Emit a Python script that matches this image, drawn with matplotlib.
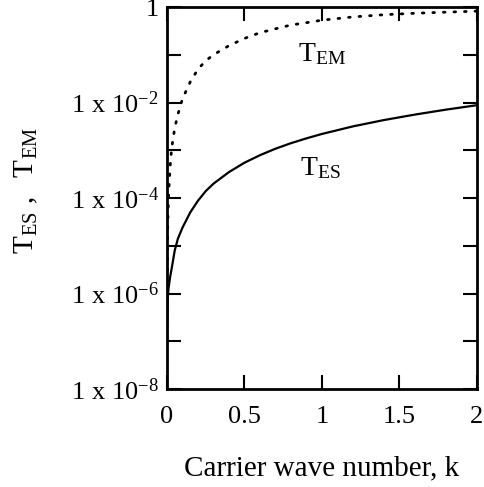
import matplotlib
matplotlib.use("Agg")
import matplotlib.pyplot as plt
from matplotlib.ticker import FixedLocator, NullLocator

plt.rcParams["font.family"] = ["Liberation Serif", "DejaVu Serif"]
plt.rcParams["mathtext.fontset"] = "custom"
plt.rcParams["mathtext.rm"] = "Liberation Serif"
plt.rcParams["mathtext.it"] = "Liberation Serif"

# carrier wave number
k_es = [0.0, 0.005, 0.01, 0.02, 0.03, 0.05, 0.07, 0.1, 0.15, 0.2, 0.25, 0.3,
        0.4, 0.5, 0.6, 0.7, 0.8, 0.9, 1.0, 1.2, 1.4, 1.6, 1.8, 2.0]
t_es = [1e-7, 8e-7, 1.3e-6, 2.2e-6, 3.3e-6, 8e-6, 1.4e-5, 2.4e-5, 5e-5, 8.8e-5,
        1.4e-4, 2.0e-4, 3.5e-4, 5.5e-4, 7.9e-4, 1.08e-3, 1.41e-3, 1.78e-3,
        2.2e-3, 3.17e-3, 4.3e-3, 5.6e-3, 7.1e-3, 8.8e-3]

k_em = [0.001, 0.002, 0.005, 0.01, 0.02, 0.03, 0.05, 0.07, 0.1, 0.15, 0.2,
        0.25, 0.3, 0.4, 0.5, 0.6, 0.7, 0.8, 0.9, 1.0, 1.2, 1.4, 1.6, 1.8, 2.0]
t_em = [1.1e-6, 4.4e-6, 2.8e-5, 1.1e-4, 4.4e-4, 1.1e-3, 2.9e-3, 5.6e-3, 0.012,
        0.027, 0.05, 0.075, 0.1, 0.155, 0.22, 0.29, 0.35, 0.42, 0.47, 0.53,
        0.62, 0.69, 0.74, 0.78, 0.82]

x_ticks = [0, 0.5, 1, 1.5, 2]
x_labels = ["0", "0.5", "1", "1.5", "2"]
y_ticks = [1e-8, 1e-7, 1e-6, 1e-5, 1e-4, 1e-3, 1e-2, 1e-1, 1]
y_labels = [r"$\mathrm{1\ x\ 10^{-8}}$", "", r"$\mathrm{1\ x\ 10^{-6}}$", "",
            r"$\mathrm{1\ x\ 10^{-4}}$", "", r"$\mathrm{1\ x\ 10^{-2}}$", "", "1"]

fig = plt.figure(figsize=(4.84, 4.87), dpi=100)
ax = fig.add_axes([0.345, 0.201, 0.6405, 0.7846])

ax.plot(k_es, t_es, color="black", lw=1.6, solid_capstyle="round")
ax.plot(k_em, t_em, color="black", lw=2.0, linestyle=(0, (0.6, 3.2)),
        dash_capstyle="round")

ax.set_yscale("log")
ax.set_xlim(0, 2)
ax.set_ylim(1e-8, 1)

ax.xaxis.set_major_locator(FixedLocator(x_ticks))
ax.set_xticklabels(x_labels, fontsize=19)
ax.yaxis.set_major_locator(FixedLocator(y_ticks))
ax.yaxis.set_minor_locator(NullLocator())
ax.set_yticklabels(y_labels, fontsize=19)

ax.tick_params(which="major", direction="in", length=10, width=1.5,
               top=True, right=True)
ax.tick_params(axis="x", pad=12)
ax.tick_params(axis="y", pad=6)
for s in ax.spines.values():
    s.set_linewidth(2)

ax.text(1.0, 0.105, r"$\mathrm{T_{EM}}$", fontsize=20, ha="center", va="center")
ax.text(0.99, 4.3e-4, r"$\mathrm{T_{ES}}$", fontsize=20, ha="center", va="center")

ax.set_xlabel("Carrier wave number, k", fontsize=21, labelpad=20)
ax.set_ylabel(r"$\mathrm{T_{ES}\ ,\ \ T_{EM}}$", fontsize=21)
ax.yaxis.set_label_coords(-0.41, 0.52)

fig.savefig("out.png", dpi=100)
